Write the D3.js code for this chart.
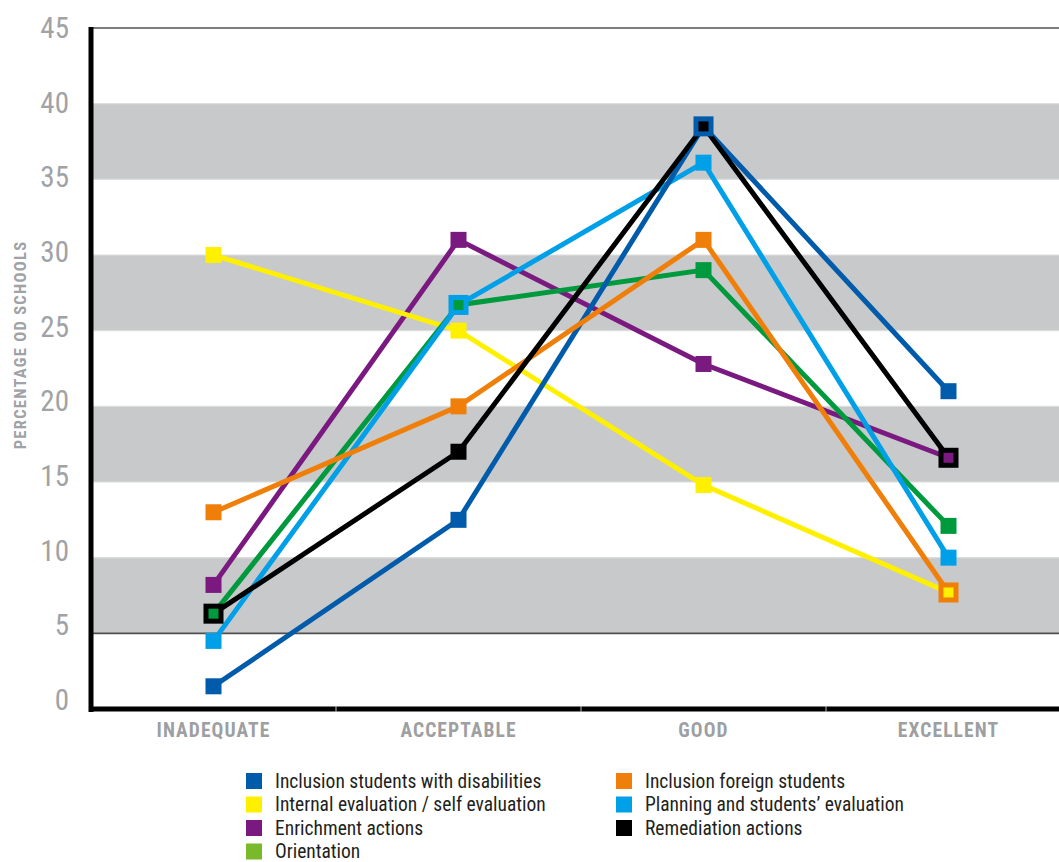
<!DOCTYPE html>
<html>
<head>
<meta charset="utf-8">
<script src="https://cdn.jsdelivr.net/npm/d3@7"></script>
<style>
  html, body { margin: 0; padding: 0; background: #fff; }
  svg { display: block; }
  .cond { font-family: "Roboto Condensed", "Liberation Sans Narrow", "DejaVu Sans Condensed", "Arial Narrow", sans-serif; font-stretch: condensed; }
</style>
</head>
<body>
<svg id="chart" width="1059" height="862"></svg>
<script>
// Rating categories along the x axis
const categories = ["INADEQUATE", "ACCEPTABLE", "GOOD", "EXCELLENT"];

// Percentage of schools per rating, one array per action area
const disabilities = [1.5, 12.5, 38.5, 21];
const foreign      = [13, 20, 31, 7.7];
const selfEval     = [30, 25, 14.8, 7.7];
const planning     = [4.5, 26.7, 36.1, 10];
const enrichment   = [8.2, 31, 22.8, 16.6];
const remediation  = [6.3, 17, 38.5, 16.6];
const orientation  = [6.3, 26.7, 29, 12.1];

// Y axis ticks and shaded bands
const yTicks = [0, 5, 10, 15, 20, 25, 30, 35, 40, 45];
const bandRanges = [[5, 10], [15, 20], [25, 30], [35, 40]];

const series = [
  { name: "Inclusion students with disabilities", values: disabilities },
  { name: "Internal evaluation / self evaluation", values: selfEval },
  { name: "Enrichment actions", values: enrichment },
  { name: "Orientation", values: orientation },
  { name: "Inclusion foreign students", values: foreign },
  { name: "Planning and students\u2019 evaluation", values: planning },
  { name: "Remediation actions", values: remediation }
];

const lineColor = {
  "Inclusion students with disabilities": "#005baa",
  "Internal evaluation / self evaluation": "#fff000",
  "Enrichment actions": "#7a1a80",
  "Orientation": "#009a3e",
  "Inclusion foreign students": "#f07f0a",
  "Planning and students\u2019 evaluation": "#00a0e9",
  "Remediation actions": "#000000"
};
const swatchColor = Object.assign({}, lineColor, { "Orientation": "#7ab929" });

// Stacking order for lines and for markers (earlier markers sit underneath)
const lineOrder = ["Enrichment actions", "Internal evaluation / self evaluation", "Orientation",
  "Planning and students\u2019 evaluation", "Inclusion students with disabilities",
  "Inclusion foreign students", "Remediation actions"];
const markerOrder = ["Inclusion students with disabilities", "Inclusion foreign students",
  "Planning and students\u2019 evaluation", "Remediation actions", "Enrichment actions",
  "Internal evaluation / self evaluation", "Orientation"];

const svg = d3.select("#chart");
const plotLeft = 91, plotRight = 1071, plotTop = 28, plotBottom = 709;

const x = d3.scaleBand().domain(categories).range([plotLeft, plotRight]);
const y = d3.scaleLinear().domain([0, 45]).range([plotBottom, plotTop]);
// tick labels sit on a slightly tighter ladder than the grid lines
const yLabel = d3.scaleLinear().domain([0, 45]).range([700, 28]);
const cx = c => x(c) + x.bandwidth() / 2;

// shaded bands
svg.append("g").selectAll("rect").data(bandRanges).join("rect")
  .attr("x", plotLeft).attr("width", 1059 - plotLeft)
  .attr("y", d => y(d[1])).attr("height", d => y(d[0]) - y(d[1]))
  .attr("fill", "#c8c9ca");

// light grid lines at each tick
svg.append("g").selectAll("line").data(yTicks.filter(t => t > 0 && t < 45 && t !== 5)).join("line")
  .attr("x1", plotLeft).attr("x2", 1059)
  .attr("y1", d => y(d)).attr("y2", d => y(d))
  .attr("stroke", "#dcdddd").attr("stroke-width", 1.2);

// dark reference lines at 5 and at the top
svg.append("g").selectAll("line").data([5, 45]).join("line")
  .attr("x1", plotLeft).attr("x2", 1059)
  .attr("y1", d => y(d)).attr("y2", d => y(d))
  .attr("stroke", "#505050").attr("stroke-width", 1.6);

// y tick labels
svg.append("g").attr("class", "cond").selectAll("text").data(yTicks).join("text")
  .attr("x", 69).attr("y", d => yLabel(d) + 10)
  .attr("text-anchor", "end")
  .attr("font-size", 29).attr("font-weight", 400)
  .attr("fill", "#a0a2a5")
  .text(d => d);

// y axis title
svg.append("text").attr("class", "cond")
  .attr("transform", "translate(25.5,345) rotate(-90)")
  .attr("text-anchor", "middle")
  .attr("font-size", 16.5).attr("font-weight", 700)
  .attr("letter-spacing", 1.3)
  .attr("fill", "#a0a2a5")
  .text("PERCENTAGE OD SCHOOLS");

// lines
const line = d3.line().x((d, i) => cx(categories[i])).y(d => y(d));
const byName = new Map(series.map(s => [s.name, s]));
svg.append("g").selectAll("path").data(lineOrder.map(n => byName.get(n))).join("path")
  .attr("d", s => line(s.values))
  .attr("fill", "none")
  .attr("stroke", s => lineColor[s.name])
  .attr("stroke-width", 5)
  .attr("stroke-linejoin", "miter");

// markers: where two series meet at the same value, the lower one is drawn larger
// so that it frames the one on top
const markers = [];
markerOrder.forEach((n, k) => {
  const s = byName.get(n);
  s.values.forEach((v, i) => markers.push({ name: n, k, i, v, size: 16 }));
});
markers.forEach(a => {
  markers.forEach(b => {
    if (a !== b && a.i === b.i && Math.abs(a.v - b.v) < 0.35) {
      if (a.k < b.k) a.size = 20; else a.size = 10;
    }
  });
});
markers.sort((a, b) => a.k - b.k || (b.size - a.size));
svg.append("g").selectAll("rect").data(markers).join("rect")
  .attr("x", d => cx(categories[d.i]) - d.size / 2)
  .attr("y", d => y(d.v) - d.size / 2)
  .attr("width", d => d.size).attr("height", d => d.size)
  .attr("fill", d => lineColor[d.name]);

// axes
svg.append("line").attr("x1", plotLeft).attr("x2", plotLeft).attr("y1", plotTop - 1).attr("y2", plotBottom + 3)
  .attr("stroke", "#000").attr("stroke-width", 5);
svg.append("line").attr("x1", plotLeft - 2).attr("x2", 1059).attr("y1", plotBottom).attr("y2", plotBottom)
  .attr("stroke", "#000").attr("stroke-width", 5);
svg.append("g").selectAll("line").data(categories.slice(1)).join("line")
  .attr("x1", d => x(d)).attr("x2", d => x(d))
  .attr("y1", plotBottom - 3).attr("y2", plotBottom + 3)
  .attr("stroke", "#bbb").attr("stroke-width", 1);

// x category labels
svg.append("g").attr("class", "cond").selectAll("text").data(categories).join("text")
  .attr("x", d => cx(d)).attr("y", 737)
  .attr("text-anchor", "middle")
  .attr("font-size", 19.5).attr("font-weight", 700)
  .attr("letter-spacing", 1.1)
  .attr("fill", "#9d9fa2")
  .text(d => d);

// legend
const legendItems = [
  "Inclusion students with disabilities", "Internal evaluation / self evaluation",
  "Enrichment actions", "Orientation",
  "Inclusion foreign students", "Planning and students\u2019 evaluation", "Remediation actions"
];
const lg = svg.append("g").attr("class", "cond");
legendItems.forEach((n, idx) => {
  const col = idx < 4 ? 0 : 1;
  const row = idx < 4 ? idx : idx - 4;
  const gx = col === 0 ? 246 : 616;
  const gy = 781 + row * 23.5;
  lg.append("rect").attr("x", gx).attr("y", gy - 8).attr("width", 16).attr("height", 16)
    .attr("fill", swatchColor[n]);
  lg.append("text").attr("x", gx + 29).attr("y", gy + 6.5)
    .attr("font-size", 19.5).attr("fill", "#231f20")
    .text(n);
});
</script>
</body>
</html>
